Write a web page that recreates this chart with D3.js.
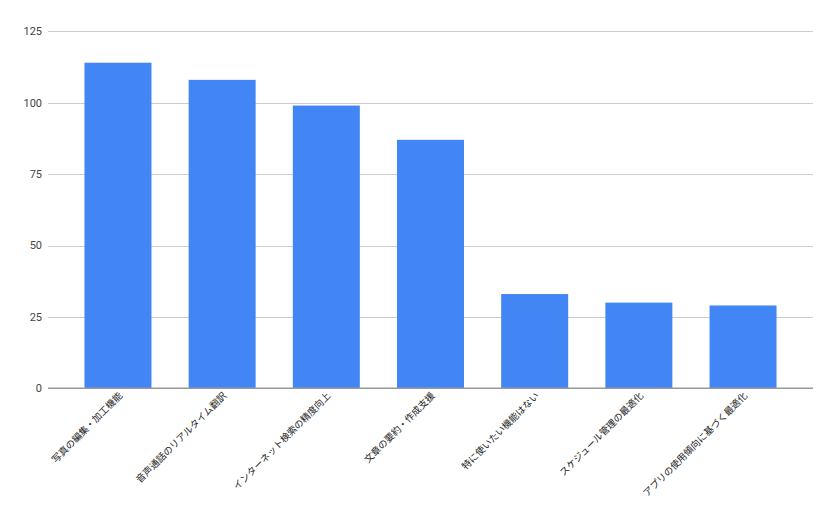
<!DOCTYPE html>
<html><head><meta charset="utf-8">
<script src="https://cdn.jsdelivr.net/npm/d3@7"></script>
<style>body{margin:0;background:#fff}svg{display:block}</style>
</head><body>
<svg id="c" width="840" height="519"></svg>
<script>
const categories = ["写真の編集・加工機能","音声通話のリアルタイム翻訳","インターネット検索の精度向上","文章の要約・作成支援","特に使いたい機能はない","スケジュール管理の最適化","アプリの使用傾向に基づく最適化"];
const values = [114, 108, 99, 87, 33, 30, 29];
const yTicks = [0, 25, 50, 75, 100, 125];

(function () {
const svg = d3.select("#c");
const mLeft = 48, mRight = 813, mTop = 31.3, mBottom = 388.3;
const font = "Roboto, 'Noto Sans CJK JP', Arial, sans-serif";

const x = d3.scaleBand().domain(categories).range([mLeft, mRight]).paddingInner(0.357).paddingOuter(0.35);
const y = d3.scaleLinear().domain([0, 125]).range([mBottom, mTop]);

svg.append("g").selectAll("line").data(yTicks.filter(d => d > 0)).join("line")
  .attr("x1", mLeft).attr("x2", mRight)
  .attr("y1", d => Math.round(y(d)) + 0.5).attr("y2", d => Math.round(y(d)) + 0.5)
  .attr("stroke", "#cccccc").attr("stroke-width", 1);

svg.append("g").selectAll("text").data(yTicks).join("text")
  .attr("x", 42).attr("y", d => y(d)).attr("dy", "0.35em")
  .attr("text-anchor", "end").attr("font-family", font).attr("font-size", 11)
  .attr("fill", "#444").text(d => d);

svg.append("g").selectAll("rect").data(values).join("rect")
  .attr("x", (d, i) => x(categories[i])).attr("width", x.bandwidth())
  .attr("y", d => y(d)).attr("height", d => y(0) - y(d))
  .attr("fill", "#4285f4");

svg.append("line").attr("x1", mLeft).attr("x2", mRight)
  .attr("y1", mBottom).attr("y2", mBottom)
  .attr("stroke", "#999").attr("stroke-width", 1.5);

svg.append("g").selectAll("text").data(categories).join("text")
  .attr("transform", d => `translate(${x(d) + x.bandwidth() / 2 + 5},${mBottom + 8}) rotate(-45)`)
  .attr("text-anchor", "end").attr("font-family", font).attr("font-size", 9.5)
  .attr("fill", "#222").text(d => d);
})();
</script>
</body></html>
